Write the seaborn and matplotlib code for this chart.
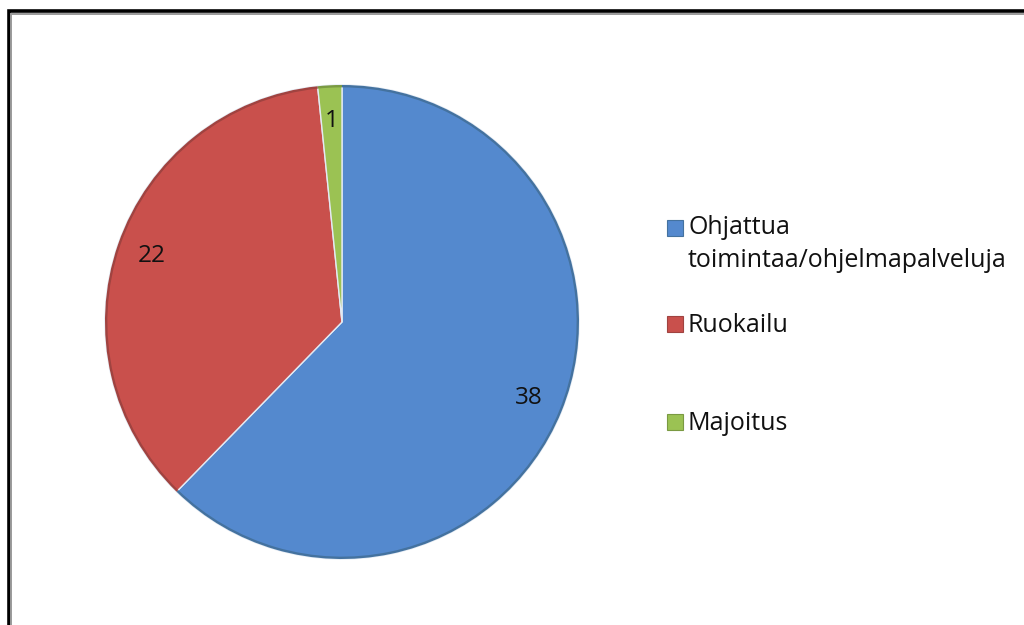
import matplotlib
matplotlib.use("Agg")
import matplotlib.pyplot as plt
from matplotlib.patches import Rectangle
import seaborn as sns

# Data
categories = ["Ohjattua\ntoimintaa/ohjelmapalveluja", "Ruokailu", "Majoitus"]
values = [38, 22, 1]
colors = ["#5489CE", "#C9504C", "#9BC253"]
edge_colors = ["#44729F", "#A04340", "#7A9A42"]

sns.set_theme(style="white")
plt.rcParams["font.family"] = ["Open Sans", "DejaVu Sans"]

fig = plt.figure(figsize=(10.24, 6.25), dpi=100)
fig.patch.set_facecolor("white")

# Outer frame (black line with a grey inner line)
W, H = 1024, 625
fig.patches.append(Rectangle((8.5 / W, -0.1), 1.2, 1.1 - 11.5 / H,
                             transform=fig.transFigure, fill=False,
                             edgecolor="black", linewidth=2.6))
fig.patches.append(Rectangle((10.8 / W, -0.1), 1.2, 1.1 - 13.8 / H,
                             transform=fig.transFigure, fill=False,
                             edgecolor="#9a9a9a", linewidth=1.4))

# Pie axes
cx, cy, r = 342, 322, 237
ax = fig.add_axes([(cx - r) / W, (H - cy - r) / H, 2 * r / W, 2 * r / H])
wedges, texts, autotexts = ax.pie(
    values, colors=colors, startangle=90, counterclock=False,
    autopct=lambda p: f"{round(p * sum(values) / 100):d}",
    pctdistance=0.85, radius=1.0,
    wedgeprops=dict(edgecolor="#e3eaf3", linewidth=1.0),
    textprops=dict(fontsize=17.5, color="#111111"),
)
# darker rim along the outer edge of each wedge
ax.pie(values, colors=["none"] * len(values), startangle=90, counterclock=False,
       radius=1.0, wedgeprops=dict(width=0.01, edgecolor="none", linewidth=0))
for w, ec in zip(ax.patches[len(values):], edge_colors):
    w.set_facecolor(ec)
ax.set_xlim(-1.0, 1.0)
ax.set_ylim(-1.0, 1.0)
ax.set_aspect("equal")
ax.axis("off")

# Legend entries: square key aligned with the first text line
key_x, key_size, text_x = 675, 16, 688
key_y = [228, 324, 422]
text_cap_y = [226.5, 323.5, 421.5]
for cat, col, ec, ky, ty in zip(categories, colors, edge_colors, key_y, text_cap_y):
    fig.patches.append(Rectangle(((key_x - key_size / 2) / W, (H - ky - key_size / 2) / H),
                                 key_size / W, key_size / H,
                                 transform=fig.transFigure, facecolor=col,
                                 edgecolor=ec, linewidth=0.8))
    fig.text(text_x / W, (H - ty + 11) / H, cat, ha="left", va="top",
             fontsize=18, color="#111111", linespacing=1.38)

fig.savefig("out.png", dpi=100)
